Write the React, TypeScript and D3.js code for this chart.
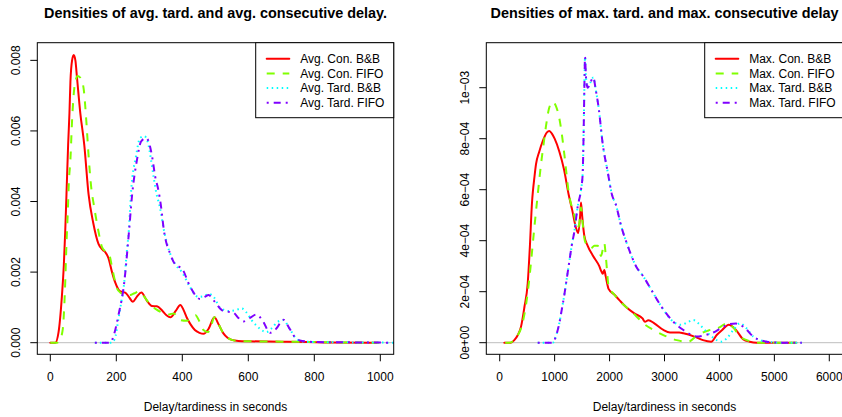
import React from "react";
import * as d3 from "d3";

// ---------- Left panel data (avg.) ----------
const avgConBBx = [0, 15, 25, 35, 41, 45, 49, 54, 58, 61, 66, 71, 76, 81, 91, 103, 116, 130, 146, 160, 167, 176, 187, 197, 207, 217, 227, 238, 250, 262, 276, 292, 308, 323, 340, 352, 364, 380, 394, 405, 413, 425, 438, 452, 464, 480, 497, 511, 524, 537, 550, 570, 600, 700, 780, 850, 990];
const avgConBBy = [0, 0, 0.0003, 0.0013, 0.0022, 0.0031, 0.0042, 0.0056, 0.0065, 0.0074, 0.008, 0.00815, 0.008, 0.0075, 0.0065, 0.0056, 0.0042, 0.0034, 0.0028, 0.00262, 0.00256, 0.0024, 0.002, 0.0017, 0.0015, 0.00144, 0.00142, 0.0013, 0.00116, 0.0013, 0.00142, 0.0012, 0.00104, 0.00103, 0.0009, 0.00078, 0.00072, 0.0009, 0.00107, 0.0009, 0.00072, 0.00052, 0.00036, 0.00028, 0.00025, 0.0004, 0.00072, 0.0005, 0.00027, 0.00014, 0.00008, 0.00005, 0.00004, 0.00003, 0.00002, 0.000005, 0];

const avgConFIFOx = [0, 20, 30, 38, 44, 49, 53, 56, 61, 66, 74, 83, 92, 101, 109, 116, 124, 132, 145, 157, 168, 177, 190, 202, 215, 228, 242, 255, 268, 285, 303, 320, 344, 360, 374, 393, 413, 428, 440, 452, 464, 478, 488, 497, 511, 524, 537, 550, 570, 600, 700, 800, 900, 1000];
const avgConFIFOy = [0, 0, 0.0001, 0.0004, 0.0014, 0.0028, 0.0037, 0.0045, 0.0052, 0.0063, 0.0073, 0.00756, 0.0075, 0.0072, 0.0063, 0.0053, 0.0044, 0.0039, 0.0032, 0.0027, 0.00258, 0.00253, 0.002, 0.00154, 0.0014, 0.00135, 0.00135, 0.0014, 0.00145, 0.0013, 0.00107, 0.00095, 0.00083, 0.0008, 0.00083, 0.00064, 0.00062, 0.0007, 0.00078, 0.0006, 0.00036, 0.0003, 0.0005, 0.00072, 0.0005, 0.00027, 0.00014, 0.00008, 0.00005, 0.00004, 0.00003, 0.00002, 0.000005, 0];

const avgTardBBx = [135, 170, 185, 195, 207, 216, 224, 231, 238, 245, 260, 272, 285, 295, 305, 313, 320, 333, 344, 364, 380, 399, 423, 448, 465, 480, 495, 514, 540, 560, 580, 595, 610, 625, 640, 655, 670, 690, 706, 725, 747, 770, 800, 900, 1040];
const avgTardBBy = [0, 0, 0, 0.0001, 0.0007, 0.0012, 0.0017, 0.0025, 0.0032, 0.0043, 0.0053, 0.0058, 0.00585, 0.0057, 0.0052, 0.0047, 0.0043, 0.0038, 0.0032, 0.0025, 0.0022, 0.002, 0.00158, 0.0013, 0.00132, 0.00138, 0.0013, 0.001, 0.0009, 0.00092, 0.00097, 0.00085, 0.00064, 0.00048, 0.00036, 0.0003, 0.0004, 0.0006, 0.00064, 0.0004, 0.0001, 0.00003, 0.00002, 0.00001, 0];

const avgTardFIFOx = [135, 170, 182, 192, 207, 224, 238, 248, 263, 275, 290, 298, 308, 318, 328, 335, 344, 364, 380, 399, 423, 454, 468, 480, 495, 524, 555, 570, 585, 605, 625, 645, 666, 685, 706, 725, 747, 770, 800, 900, 1040];
const avgTardFIFOy = [0, 0, 0, 0.0002, 0.0008, 0.0017, 0.0031, 0.0042, 0.0052, 0.0057, 0.0058, 0.0057, 0.0053, 0.0047, 0.0043, 0.0039, 0.0032, 0.0025, 0.0022, 0.0021, 0.0016, 0.00124, 0.0013, 0.00135, 0.0012, 0.0009, 0.00085, 0.0007, 0.0006, 0.0007, 0.0008, 0.0006, 0.00028, 0.0004, 0.00065, 0.0004, 0.0001, 0.00004, 0.00002, 0.00001, 0];

// ---------- Right panel data (max.) ----------
const maxConBBx = [84, 200, 266, 330, 388, 450, 510, 550, 588, 605, 630, 661, 721, 782, 860, 903, 950, 1000, 1085, 1170, 1256, 1320, 1389, 1430, 1465, 1480, 1500, 1540, 1602, 1700, 1813, 1850, 1875, 1904, 1930, 1984, 2080, 2178, 2300, 2451, 2600, 2645, 2706, 2815, 2979, 3100, 3270, 3343, 3543, 3700, 3850, 3950, 4050, 4170, 4300, 4435, 4550, 4679, 5000, 5400];
const maxConBBy = [0, 0, 0.00001, 0.00003, 0.000063, 0.00014, 0.000233, 0.00038, 0.00055, 0.000595, 0.000645, 0.0007, 0.00075, 0.00079, 0.000825, 0.00083, 0.00082, 0.0008, 0.00075, 0.00068, 0.00058, 0.00052, 0.00045, 0.00043, 0.0005, 0.00055, 0.0005, 0.00042, 0.00038, 0.00034, 0.0003, 0.00028, 0.00027, 0.000285, 0.00026, 0.00021, 0.00019, 0.000167, 0.00014, 0.000115, 0.000095, 0.000082, 0.000088, 0.000076, 0.00005, 0.00004, 0.00004, 0.000037, 0.000024, 0.00001, 0.000004, 0.00003, 0.00005, 0.00007, 0.00005, 0.000013, 0.000004, 0, 0, 0];

const maxConFIFOx = [100, 175, 300, 419, 480, 539, 590, 630, 692, 752, 800, 843, 900, 965, 1020, 1085, 1130, 1176, 1256, 1358, 1419, 1450, 1480, 1510, 1550, 1602, 1660, 1723, 1784, 1845, 1880, 1904, 1935, 1984, 2080, 2178, 2300, 2481, 2614, 2800, 2979, 3222, 3434, 3600, 3800, 4000, 4151, 4250, 4375, 4500, 4700, 5000, 5400];
const maxConFIFOy = [0, 0, 0.00002, 0.00008, 0.00015, 0.00025, 0.00036, 0.00045, 0.00058, 0.0007, 0.00078, 0.00085, 0.00092, 0.000945, 0.00093, 0.00088, 0.00082, 0.00074, 0.00059, 0.0005, 0.00045, 0.00047, 0.00053, 0.00047, 0.0004, 0.00038, 0.00037, 0.00038, 0.00038, 0.00034, 0.00037, 0.00039, 0.00033, 0.00022, 0.00019, 0.000165, 0.00014, 0.000105, 0.000076, 0.00005, 0.00003, 0.00001, 0.000004, 0.00003, 0.000048, 0.00006, 0.000078, 0.00006, 0.000024, 0.00001, 0, 0, 0];

const maxTardBBx = [692, 850, 965, 1030, 1085, 1130, 1176, 1220, 1267, 1310, 1358, 1419, 1480, 1510, 1530, 1545, 1553, 1571, 1602, 1650, 1704, 1750, 1802, 1875, 1966, 2044, 2117, 2208, 2330, 2481, 2614, 2780, 2948, 3160, 3300, 3434, 3525, 3616, 3707, 3859, 4041, 4132, 4253, 4375, 4496, 4617, 4860, 5100, 5500];
const maxTardBBy = [0, 0, 0, 0.00003, 0.000076, 0.00013, 0.000187, 0.00025, 0.000318, 0.00038, 0.000435, 0.000533, 0.0006, 0.00066, 0.00085, 0.00105, 0.00112, 0.00104, 0.001, 0.00102, 0.00104, 0.00099, 0.00092, 0.00078, 0.00067, 0.00058, 0.00054, 0.00046, 0.00038, 0.0003, 0.00026, 0.0002, 0.00014, 0.000082, 0.00007, 0.000082, 0.000089, 0.000076, 0.000056, 0.000024, 0.000004, 0.000017, 0.00005, 0.000076, 0.000056, 0.000024, 0.000004, 0, 0];

const maxTardFIFOx = [692, 850, 965, 1030, 1085, 1130, 1176, 1220, 1267, 1310, 1358, 1419, 1480, 1510, 1530, 1545, 1553, 1571, 1602, 1650, 1704, 1750, 1802, 1875, 1966, 2044, 2117, 2208, 2330, 2481, 2614, 2780, 2948, 3160, 3343, 3450, 3586, 3750, 3889, 4050, 4193, 4302, 4450, 4617, 4860, 5100, 5500];
const maxTardFIFOy = [0, 0, 0, 0.00003, 0.000076, 0.00013, 0.000187, 0.00025, 0.000318, 0.00038, 0.000435, 0.000533, 0.0006, 0.00066, 0.00085, 0.00105, 0.00112, 0.00104, 0.001, 0.00102, 0.00104, 0.00099, 0.00092, 0.00078, 0.00067, 0.00058, 0.00054, 0.00046, 0.00038, 0.0003, 0.00026, 0.0002, 0.00014, 0.000082, 0.00005, 0.000035, 0.000024, 0.00003, 0.00004, 0.00006, 0.000073, 0.000075, 0.00006, 0.000024, 0.000004, 0, 0];

// ---------- Labels / ticks ----------
const avgLegend = ["Avg. Con. B&B", "Avg. Con. FIFO", "Avg. Tard. B&B", "Avg. Tard. FIFO"];
const maxLegend = ["Max. Con. B&B", "Max. Con. FIFO", "Max. Tard. B&B", "Max. Tard. FIFO"];
const avgXTicks = [0, 200, 400, 600, 800, 1000];
const avgYTicks = [0, 0.002, 0.004, 0.006, 0.008];
const avgYTickLabels = ["0.000", "0.002", "0.004", "0.006", "0.008"];
const maxXTicks = [0, 1000, 2000, 3000, 4000, 5000, 6000];
const maxYTicks = [0, 0.0002, 0.0004, 0.0006, 0.0008, 0.001];
const maxYTickLabels = ["0e+00", "2e\u221204", "4e\u221204", "6e\u221204", "8e\u221204", "1e\u221203"];

const seriesColors = ["#FF0000", "#80FF00", "#00FFFF", "#8000FF"];
const seriesDash = ["none", "8,8", "1.5,3.5", "2,5,7,5"];
const seriesCap: any[] = ["round", "butt", "butt", "butt"];

const FONT = "'Liberation Sans', Arial, Helvetica, sans-serif";

type PanelProps = {
  title: string;
  x0: number; x1: number; y0: number; y1: number;
  xDomain: [number, number]; yDomain: [number, number];
  xTicks: number[]; yTicks: number[]; yTickLabels: string[];
  series: { x: number[]; y: number[] }[];
  legend: string[];
};

function Panel(p: PanelProps) {
  const xs = d3.scaleLinear().domain(p.xDomain).range([p.x0, p.x1]);
  const ys = d3.scaleLinear().domain(p.yDomain).range([p.y1, p.y0]);
  const line = d3
    .line<[number, number]>()
    .x((d) => xs(d[0]))
    .y((d) => ys(d[1]))
    .curve(d3.curveMonotoneX);
  const cx = (p.x0 + p.x1) / 2;
  const legW = 138;
  const legX = p.x1 - legW;
  const legH = 75;
  return (
    <g>
      <text x={cx} y={18.3} textAnchor="middle" fontWeight="bold" fontSize={14.4} fontFamily={FONT}>
        {p.title}
      </text>
      <line x1={p.x0} x2={p.x1} y1={ys(0)} y2={ys(0)} stroke="#BEBEBE" strokeWidth={1} />
      {p.series.map((s, i) => (
        <path
          key={i}
          d={line(s.x.map((v, j) => [v, s.y[j]] as [number, number])) || ""}
          fill="none"
          stroke={seriesColors[i]}
          strokeWidth={2}
          strokeDasharray={seriesDash[i]}
          strokeLinecap={seriesCap[i]}
          strokeLinejoin="round"
        />
      ))}
      <rect x={p.x0} y={p.y0} width={p.x1 - p.x0} height={p.y1 - p.y0} fill="none" stroke="#000" strokeWidth={1} />
      {p.xTicks.map((t) => (
        <g key={t}>
          <line x1={xs(t)} x2={xs(t)} y1={p.y1} y2={p.y1 + 7} stroke="#000" />
          <text x={xs(t)} y={p.y1 + 27} textAnchor="middle" fontSize={12} fontFamily={FONT}>
            {t}
          </text>
        </g>
      ))}
      {p.yTicks.map((t, i) => (
        <g key={t}>
          <line x1={p.x0 - 7} x2={p.x0} y1={ys(t)} y2={ys(t)} stroke="#000" />
          <text
            transform={`translate(${p.x0 - 17},${ys(t)}) rotate(-90)`}
            textAnchor="middle"
            fontSize={12}
            fontFamily={FONT}
          >
            {p.yTickLabels[i]}
          </text>
        </g>
      ))}
      <text x={cx} y={411} textAnchor="middle" fontSize={12} fontFamily={FONT}>
        Delay/tardiness in seconds
      </text>
      <rect x={legX} y={p.y0} width={legW} height={legH} fill="#fff" stroke="#000" strokeWidth={1} />
      {p.legend.map((lab, i) => {
        const yy = p.y0 + 16 + i * 14.7;
        return (
          <g key={lab}>
            <line
              x1={legX + 11}
              x2={legX + 33.6}
              y1={yy}
              y2={yy}
              stroke={seriesColors[i]}
              strokeWidth={2}
              strokeDasharray={seriesDash[i]}
              strokeLinecap={seriesCap[i]}
            />
            <text x={legX + 44.5} y={yy + 4.3} fontSize={12} fontFamily={FONT}>
              {lab}
            </text>
          </g>
        );
      })}
    </g>
  );
}

export default function App() {
  return (
    <svg
      width={842}
      height={417}
      style={{ position: "absolute", left: 0, top: 0, background: "#fff" }}
    >
      <rect x={0} y={0} width={842} height={417} fill="#fff" />
      <Panel
        title="Densities of avg. tard. and avg. consecutive delay."
        x0={37.3}
        x1={393.7}
        y0={42.7}
        y1={354.3}
        xDomain={[-39.4, 1040.6]}
        yDomain={[-0.000329, 0.0085]}
        xTicks={avgXTicks}
        yTicks={avgYTicks}
        yTickLabels={avgYTickLabels}
        series={[
          { x: avgConBBx, y: avgConBBy },
          { x: avgConFIFOx, y: avgConFIFOy },
          { x: avgTardBBx, y: avgTardBBy },
          { x: avgTardFIFOx, y: avgTardFIFOy },
        ]}
        legend={avgLegend}
      />
      <Panel
        title="Densities of max. tard. and max. consecutive delay"
        x0={486.3}
        x1={842.7}
        y0={42.7}
        y1={354.3}
        xDomain={[-244, 6244]}
        yDomain={[-0.0000455, 0.0011765]}
        xTicks={maxXTicks}
        yTicks={maxYTicks}
        yTickLabels={maxYTickLabels}
        series={[
          { x: maxConBBx, y: maxConBBy },
          { x: maxConFIFOx, y: maxConFIFOy },
          { x: maxTardBBx, y: maxTardBBy },
          { x: maxTardFIFOx, y: maxTardFIFOy },
        ]}
        legend={maxLegend}
      />
    </svg>
  );
}
